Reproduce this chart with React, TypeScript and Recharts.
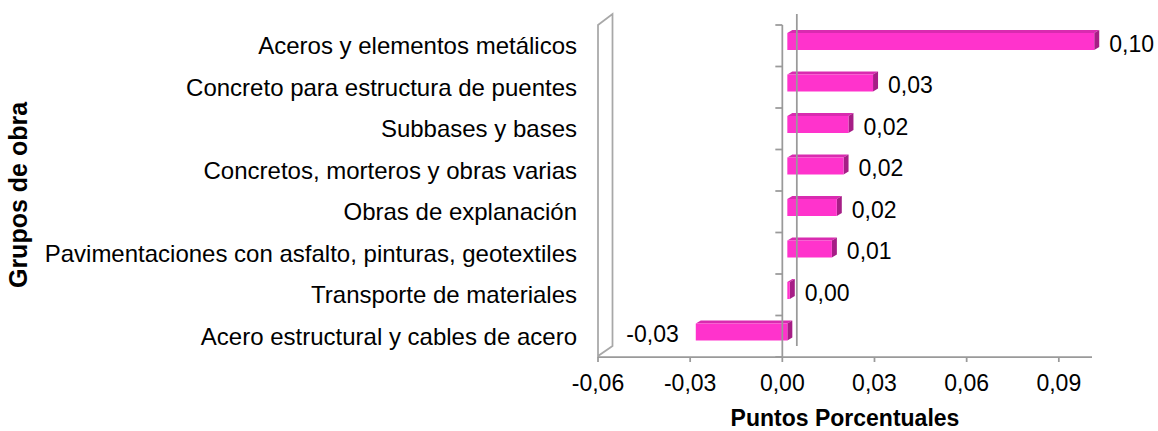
import React from 'react';
import { BarChart, Bar, XAxis, YAxis, ReferenceLine, LabelList } from 'recharts';

const categories: string[] = [
  'Aceros y elementos metálicos',
  'Concreto para estructura de puentes',
  'Subbases y bases',
  'Concretos, morteros y obras varias',
  'Obras de explanación',
  'Pavimentaciones con asfalto, pinturas, geotextiles',
  'Transporte de materiales',
  'Acero estructural y cables de acero',
];
const values: number[] = [0.0999, 0.0279, 0.0199, 0.0183, 0.0161, 0.0145, 0.0008, -0.0298];
const xTicks: number[] = [-0.06, -0.03, 0, 0.03, 0.06, 0.09];
const xDomain: [number, number] = [-0.06, 0.1008];

const data = categories.map((name, i) => ({ name, value: values[i] }));

const FONT = '"Liberation Sans", Arial, sans-serif';
const GRAY = '#9a9a9a';
const BAR_OX = 5;
const BAR_OY = -4;
const SIDE_DX = 5;
const SIDE_DY = -3;
const WALL_DX = 14.5;
const WALL_DY = -11;

const fmt = (v: number) => {
  const s = (Math.abs(v) < 1e-9 ? 0 : v).toFixed(2).replace('.', ',');
  return s;
};

const Bar3D = (props: any) => {
  const { x, y, width, height } = props;
  const x0 = Math.min(x, x + width) + BAR_OX;
  const x1 = Math.max(x, x + width) + BAR_OX;
  const top = y + BAR_OY;
  const bot = top + height;
  return (
    <g>
      <polygon
        points={`${x0},${top} ${x1},${top} ${x1 + SIDE_DX},${top + SIDE_DY} ${x0 + SIDE_DX},${top + SIDE_DY}`}
        fill="#D92BB0"
      />
      <polygon
        points={`${x1},${top} ${x1 + SIDE_DX},${top + SIDE_DY} ${x1 + SIDE_DX},${bot + SIDE_DY} ${x1},${bot}`}
        fill="#A61E86"
      />
      <rect x={x0} y={top} width={x1 - x0} height={height} fill="#FF33CC" />
    </g>
  );
};

const ValueLabel = (props: any) => {
  const { x, y, width, height, value } = props;
  const v = Number(value);
  const cy = y + height / 2 - 2;
  if (v >= 0) {
    const xe = Math.max(x, x + width) + BAR_OX + SIDE_DX + 10;
    return (
      <text x={xe} y={cy} dominantBaseline="central" textAnchor="start" fontSize={23} fontFamily={FONT} fill="#000">
        {fmt(v)}
      </text>
    );
  }
  const xs = Math.min(x, x + width) + BAR_OX - 17;
  return (
    <text x={xs} y={cy} dominantBaseline="central" textAnchor="end" fontSize={23} fontFamily={FONT} fill="#000">
      {fmt(v)}
    </text>
  );
};

const CatTick = (props: any) => {
  const { x, y, payload } = props;
  return (
    <text x={x} y={y} dominantBaseline="central" textAnchor="end" fontSize={24} fontFamily={FONT} fill="#000">
      {payload.value}
    </text>
  );
};

const BackLine = (props: any) => {
  const { x1, y1, y2 } = props;
  const t = Math.min(y1, y2);
  const b = Math.max(y1, y2);
  return <line x1={x1 + WALL_DX} y1={t + WALL_DY} x2={x1 + WALL_DX} y2={b + WALL_DY} stroke={GRAY} strokeWidth={1.75} />;
};

const Wall = (props: any) => {
  const { x1, y1, y2 } = props;
  const t = Math.min(y1, y2);
  const b = Math.max(y1, y2) - 1;
  return (
    <polygon
      points={`${x1},${t} ${x1 + WALL_DX},${t + WALL_DY} ${x1 + WALL_DX},${b + WALL_DY + 1} ${x1},${b}`}
      fill="#ffffff"
      stroke="#a8a8a8"
      strokeWidth={1.75}
    />
  );
};

const FrontAxis = (props: any) => {
  const { x1, y1, y2 } = props;
  const t = Math.min(y1, y2);
  const b = Math.max(y1, y2);
  const n = categories.length;
  const ticks = [];
  for (let i = 0; i <= n; i++) {
    const yy = t + ((b - t) * i) / n;
    ticks.push(<line key={i} x1={x1 - 7} y1={yy} x2={x1} y2={yy} stroke={GRAY} strokeWidth={1.75} />);
  }
  return (
    <g>
      <line x1={x1} y1={t} x2={x1} y2={b} stroke={GRAY} strokeWidth={1.75} />
      {ticks}
    </g>
  );
};

const XTitle = (props: any) => {
  const vb = props.viewBox || { x: 598, y: 357, width: 494, height: 74 };
  return (
    <text
      x={vb.x + vb.width / 2}
      y={vb.y + vb.height - 5}
      textAnchor="middle"
      fontSize={23}
      fontWeight="bold"
      fontFamily={FONT}
      fill="#000"
    >
      Puntos Porcentuales
    </text>
  );
};

const YTitle = (props: any) => {
  const vb = props.viewBox || { x: 0, y: 25, width: 598, height: 332 };
  const cx = vb.x + 27;
  const cy = vb.y + vb.height / 2 + 4;
  return (
    <text
      x={cx}
      y={cy}
      textAnchor="middle"
      fontSize={25}
      fontWeight="bold"
      fontFamily={FONT}
      fill="#000"
      transform={`rotate(-90, ${cx}, ${cy})`}
    >
      Grupos de obra
    </text>
  );
};

export default function App() {
  return (
    <div style={{ position: 'absolute', left: 0, top: 0, width: 1158, height: 431, background: '#fff', fontFamily: FONT }}>
      <BarChart
        width={1158}
        height={431}
        data={data}
        layout="vertical"
        margin={{ top: 25, right: 66, bottom: 0, left: 0 }}
        barCategoryGap={0}
      >
        <XAxis
          type="number"
          domain={xDomain}
          ticks={xTicks}
          tickFormatter={fmt}
          height={74}
          tickSize={5}
          tickMargin={13}
          axisLine={{ stroke: GRAY, strokeWidth: 1.75 }}
          tickLine={{ stroke: GRAY, strokeWidth: 1.75 }}
          tick={{ fill: '#000', fontSize: 23, fontFamily: FONT }}
          label={XTitle}
        />
        <YAxis
          type="category"
          dataKey="name"
          width={598}
          interval={0}
          tickLine={false}
          axisLine={false}
          tickSize={0}
          tickMargin={21}
          tick={CatTick}
          label={YTitle}
        />
        <ReferenceLine x={0} shape={BackLine} ifOverflow="visible" />
        <ReferenceLine x={-0.06} shape={Wall} ifOverflow="visible" />
        <Bar dataKey="value" barSize={17} shape={Bar3D} isAnimationActive={false}>
          <LabelList dataKey="value" content={ValueLabel} />
        </Bar>
        <ReferenceLine x={0} shape={FrontAxis} ifOverflow="visible" />
      </BarChart>
    </div>
  );
}
